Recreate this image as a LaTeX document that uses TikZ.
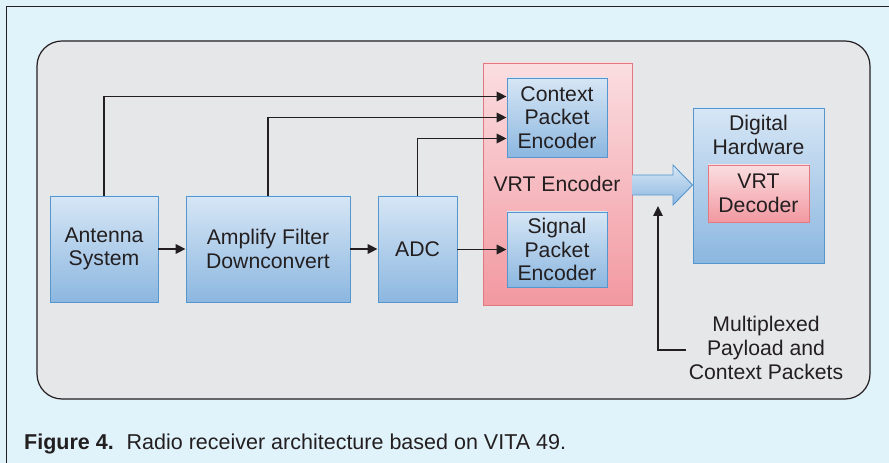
\documentclass[tikz,border=0pt]{standalone}
\usepackage{fontspec}
\setmainfont{Liberation Sans}
\usetikzlibrary{arrows.meta,calc,shadows}

\definecolor{pagebg}{RGB}{224,242,250}
\definecolor{panelgray}{RGB}{230,231,233}
\definecolor{inkdark}{RGB}{35,31,32}
\definecolor{bluetop}{RGB}{214,230,245}
\definecolor{bluebot}{RGB}{140,183,224}
\definecolor{blueedge}{RGB}{86,150,205}
\definecolor{pinktop}{RGB}{250,222,225}
\definecolor{pinkbot}{RGB}{242,152,160}
\definecolor{pinkedge}{RGB}{226,120,128}

\tikzset{
  lbl/.style={font=\fontsize{21.2}{23.7}\selectfont, text=inkdark, align=center},
  bluebox/.style={lbl, draw=blueedge, line width=0.9pt, top color=bluetop, bottom color=bluebot,
    inner sep=0pt, drop shadow={shadow xshift=1pt, shadow yshift=-1.2pt, opacity=0.25, fill=black}},
  pinkbox/.style={lbl, draw=pinkedge, line width=0.9pt, top color=pinktop, bottom color=pinkbot,
    inner sep=0pt, drop shadow={shadow xshift=1pt, shadow yshift=-1.2pt, opacity=0.2, fill=black}},
  arr/.style={draw=inkdark, line width=1.9pt, -{Triangle[length=10pt,width=9.5pt]}},
  plainline/.style={draw=inkdark, line width=1.4pt},
}

\begin{document}
\begin{tikzpicture}[x=1pt,y=1pt]
  \useasboundingbox (0,0) rectangle (889,463);
  % page background and frame
  \fill[pagebg] (0,0) rectangle (889,463);
  \draw[inkdark, line width=1.3pt] (6.5,0) -- (6.5,456.5) -- (889,456.5);

  % grey panel
  \draw[fill=panelgray, draw=inkdark, line width=1.2pt, rounded corners=25pt] (37,64) rectangle (870,422);

  % processing blocks
  \node[bluebox, minimum width=108pt, minimum height=106pt] (ant) at (104,214) {Antenna\\System};
  \node[bluebox, minimum width=164pt, minimum height=106pt] (amp) at (268,214) {Amplify Filter\\Downconvert};
  \node[bluebox, minimum width=79pt, minimum height=106pt] (adc) at (417.5,214) {ADC};

  % VRT encoder with its two packet encoders
  \node[pinkbox, minimum width=149pt, minimum height=242pt] (vrt) at (557.5,279) {};
  \node[lbl] at (557,279) {VRT Encoder};
  \node[bluebox, minimum width=100pt, minimum height=79pt] (ctx) at (557,345.5) {Context\\Packet\\Encoder};
  \node[bluebox, minimum width=100pt, minimum height=75pt] (sig) at (557,213.5) {Signal\\Packet\\Encoder};

  % digital hardware with VRT decoder
  \node[bluebox, minimum width=131pt, minimum height=155pt] (dh) at (758.5,277.5) {};
  \node[lbl] at (758.5,328) {Digital\\Hardware};
  \node[pinkbox, minimum width=101pt, minimum height=57pt] (dec) at (758.5,269.5) {VRT\\Decoder};

  % wide output arrow from encoder to hardware
  \path[draw=blueedge, line width=0.9pt, top color=bluetop, bottom color=bluebot]
    (vrt.east |- 0,288) -- (673,288) -- (673,298) -- (dh.west |- 0,278) -- (673,258) -- (673,268) -- (vrt.east |- 0,268);

  % signal chain
  \draw[arr] (ant) -- (amp);
  \draw[arr] (amp) -- (adc);
  \draw[arr] (adc.east |- sig.west) -- (sig.west);

  % context feeds
  \draw[arr] (ant.north) |- ([yshift=21pt]ctx.west);
  \draw[arr] (amp.north) |- (ctx.west);
  \draw[arr] (adc.north) |- ([yshift=-21pt]ctx.west);

  % multiplexed output annotation
  \node[lbl, inner sep=0pt] (mux) at (766,115) {Multiplexed\\Payload and\\Context Packets};
  \coordinate (uptip) at (658,257);
  \draw[plainline] ([xshift=-3pt]mux.west |- 0,113) -| ([yshift=-12pt]uptip);
  \draw[arr, line width=1.4pt] ([yshift=-14pt]uptip) -- (uptip);

  % caption
  \node[anchor=base west, font=\fontsize{21.5}{24}\selectfont, text=inkdark, inner sep=0pt] (cap) at (24,13)
    {\textbf{Figure 4.}\hspace{0.6em}Radio receiver architecture based on VITA 49.};
\end{tikzpicture}
\end{document}
